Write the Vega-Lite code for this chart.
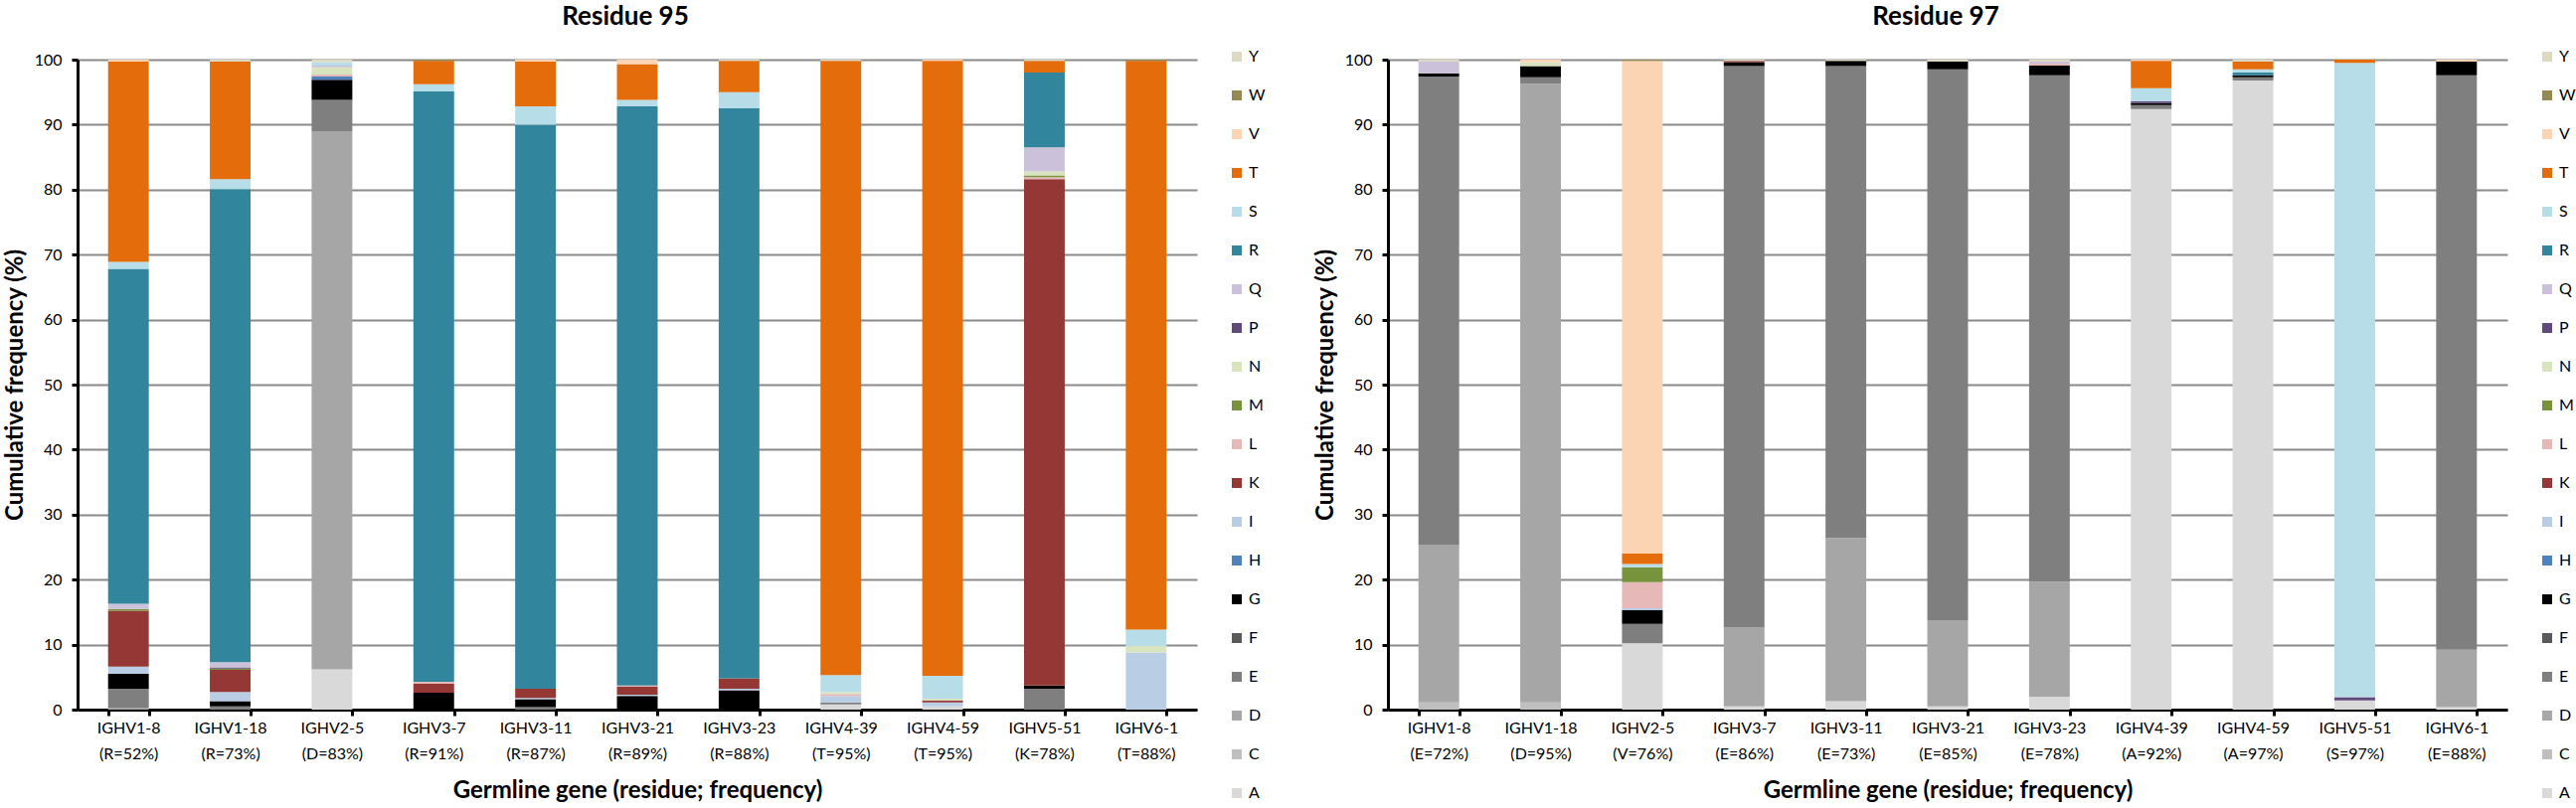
{
  "$schema": "https://vega.github.io/schema/vega-lite/v6.json",
  "padding": {"left": 3, "top": 4, "right": 0, "bottom": 0},
  "background": "white",
  "config": {
    "font": "Lato",
    "view": {"stroke": null},
    "axis": {
      "labelFontSize": 16, "labelColor": "#000000",
      "titleFontSize": 24, "titleFontWeight": "bold", "titleColor": "#000000",
      "domainColor": "#000000", "domainWidth": 3,
      "tickColor": "#000000", "tickWidth": 3, "tickSize": 6
    },
    "title": {"fontSize": 26, "fontWeight": "bold", "color": "#000000", "offset": 19, "dx": -12},
    "legend": {
      "title": null, "symbolType": "square", "symbolSize": 100, "symbolStrokeWidth": 0,
      "labelFontSize": 16, "labelColor": "#000000", "rowPadding": 23, "labelOffset": 4,
      "orient": "none", "legendX": 1158, "legendY": -11
    }
  },
  "datasets": {
    "res95": [
      {"gene": "IGHV1-8|(R=52%)", "aa": "D", "pct": 0.3},
      {"gene": "IGHV1-8|(R=52%)", "aa": "E", "pct": 2.9},
      {"gene": "IGHV1-8|(R=52%)", "aa": "G", "pct": 2.3},
      {"gene": "IGHV1-8|(R=52%)", "aa": "I", "pct": 1.1},
      {"gene": "IGHV1-8|(R=52%)", "aa": "K", "pct": 8.6},
      {"gene": "IGHV1-8|(R=52%)", "aa": "M", "pct": 0.3},
      {"gene": "IGHV1-8|(R=52%)", "aa": "Q", "pct": 0.8},
      {"gene": "IGHV1-8|(R=52%)", "aa": "R", "pct": 51.5},
      {"gene": "IGHV1-8|(R=52%)", "aa": "S", "pct": 1.1},
      {"gene": "IGHV1-8|(R=52%)", "aa": "T", "pct": 30.8},
      {"gene": "IGHV1-8|(R=52%)", "aa": "V", "pct": 0.3},

      {"gene": "IGHV1-18|(R=73%)", "aa": "E", "pct": 0.5},
      {"gene": "IGHV1-18|(R=73%)", "aa": "G", "pct": 0.8},
      {"gene": "IGHV1-18|(R=73%)", "aa": "I", "pct": 1.4},
      {"gene": "IGHV1-18|(R=73%)", "aa": "K", "pct": 3.4},
      {"gene": "IGHV1-18|(R=73%)", "aa": "M", "pct": 0.2},
      {"gene": "IGHV1-18|(R=73%)", "aa": "P", "pct": 0.2},
      {"gene": "IGHV1-18|(R=73%)", "aa": "Q", "pct": 0.8},
      {"gene": "IGHV1-18|(R=73%)", "aa": "R", "pct": 72.8},
      {"gene": "IGHV1-18|(R=73%)", "aa": "S", "pct": 1.5},
      {"gene": "IGHV1-18|(R=73%)", "aa": "T", "pct": 18.1},
      {"gene": "IGHV1-18|(R=73%)", "aa": "Y", "pct": 0.3},

      {"gene": "IGHV2-5|(D=83%)", "aa": "A", "pct": 6.2},
      {"gene": "IGHV2-5|(D=83%)", "aa": "D", "pct": 82.8},
      {"gene": "IGHV2-5|(D=83%)", "aa": "E", "pct": 4.8},
      {"gene": "IGHV2-5|(D=83%)", "aa": "G", "pct": 3.1},
      {"gene": "IGHV2-5|(D=83%)", "aa": "H", "pct": 0.5},
      {"gene": "IGHV2-5|(D=83%)", "aa": "L", "pct": 0.3},
      {"gene": "IGHV2-5|(D=83%)", "aa": "N", "pct": 1.1},
      {"gene": "IGHV2-5|(D=83%)", "aa": "Q", "pct": 0.3},
      {"gene": "IGHV2-5|(D=83%)", "aa": "S", "pct": 0.5},
      {"gene": "IGHV2-5|(D=83%)", "aa": "Y", "pct": 0.4},

      {"gene": "IGHV3-7|(R=91%)", "aa": "G", "pct": 2.6},
      {"gene": "IGHV3-7|(R=91%)", "aa": "K", "pct": 1.4},
      {"gene": "IGHV3-7|(R=91%)", "aa": "L", "pct": 0.3},
      {"gene": "IGHV3-7|(R=91%)", "aa": "R", "pct": 90.8},
      {"gene": "IGHV3-7|(R=91%)", "aa": "S", "pct": 1.1},
      {"gene": "IGHV3-7|(R=91%)", "aa": "T", "pct": 3.6},
      {"gene": "IGHV3-7|(R=91%)", "aa": "W", "pct": 0.2},

      {"gene": "IGHV3-11|(R=87%)", "aa": "E", "pct": 0.4},
      {"gene": "IGHV3-11|(R=87%)", "aa": "G", "pct": 1.2},
      {"gene": "IGHV3-11|(R=87%)", "aa": "I", "pct": 0.2},
      {"gene": "IGHV3-11|(R=87%)", "aa": "K", "pct": 1.4},
      {"gene": "IGHV3-11|(R=87%)", "aa": "R", "pct": 86.8},
      {"gene": "IGHV3-11|(R=87%)", "aa": "S", "pct": 2.8},
      {"gene": "IGHV3-11|(R=87%)", "aa": "T", "pct": 6.9},
      {"gene": "IGHV3-11|(R=87%)", "aa": "V", "pct": 0.3},

      {"gene": "IGHV3-21|(R=89%)", "aa": "G", "pct": 2.1},
      {"gene": "IGHV3-21|(R=89%)", "aa": "I", "pct": 0.2},
      {"gene": "IGHV3-21|(R=89%)", "aa": "K", "pct": 1.2},
      {"gene": "IGHV3-21|(R=89%)", "aa": "L", "pct": 0.2},
      {"gene": "IGHV3-21|(R=89%)", "aa": "R", "pct": 89.1},
      {"gene": "IGHV3-21|(R=89%)", "aa": "S", "pct": 1.0},
      {"gene": "IGHV3-21|(R=89%)", "aa": "T", "pct": 5.5},
      {"gene": "IGHV3-21|(R=89%)", "aa": "V", "pct": 0.7},

      {"gene": "IGHV3-23|(R=88%)", "aa": "G", "pct": 3.0},
      {"gene": "IGHV3-23|(R=88%)", "aa": "I", "pct": 0.2},
      {"gene": "IGHV3-23|(R=88%)", "aa": "K", "pct": 1.6},
      {"gene": "IGHV3-23|(R=88%)", "aa": "R", "pct": 87.7},
      {"gene": "IGHV3-23|(R=88%)", "aa": "S", "pct": 2.5},
      {"gene": "IGHV3-23|(R=88%)", "aa": "T", "pct": 4.8},
      {"gene": "IGHV3-23|(R=88%)", "aa": "Y", "pct": 0.2},

      {"gene": "IGHV4-39|(T=95%)", "aa": "A", "pct": 0.8},
      {"gene": "IGHV4-39|(T=95%)", "aa": "E", "pct": 0.3},
      {"gene": "IGHV4-39|(T=95%)", "aa": "I", "pct": 1.0},
      {"gene": "IGHV4-39|(T=95%)", "aa": "L", "pct": 0.3},
      {"gene": "IGHV4-39|(T=95%)", "aa": "N", "pct": 0.3},
      {"gene": "IGHV4-39|(T=95%)", "aa": "S", "pct": 2.6},
      {"gene": "IGHV4-39|(T=95%)", "aa": "T", "pct": 94.5},
      {"gene": "IGHV4-39|(T=95%)", "aa": "Y", "pct": 0.2},

      {"gene": "IGHV4-59|(T=95%)", "aa": "A", "pct": 0.5},
      {"gene": "IGHV4-59|(T=95%)", "aa": "I", "pct": 0.6},
      {"gene": "IGHV4-59|(T=95%)", "aa": "K", "pct": 0.3},
      {"gene": "IGHV4-59|(T=95%)", "aa": "N", "pct": 0.3},
      {"gene": "IGHV4-59|(T=95%)", "aa": "S", "pct": 3.5},
      {"gene": "IGHV4-59|(T=95%)", "aa": "T", "pct": 94.6},
      {"gene": "IGHV4-59|(T=95%)", "aa": "V", "pct": 0.2},

      {"gene": "IGHV5-51|(K=78%)", "aa": "E", "pct": 3.2},
      {"gene": "IGHV5-51|(K=78%)", "aa": "G", "pct": 0.5},
      {"gene": "IGHV5-51|(K=78%)", "aa": "K", "pct": 77.9},
      {"gene": "IGHV5-51|(K=78%)", "aa": "L", "pct": 0.3},
      {"gene": "IGHV5-51|(K=78%)", "aa": "M", "pct": 0.3},
      {"gene": "IGHV5-51|(K=78%)", "aa": "N", "pct": 0.6},
      {"gene": "IGHV5-51|(K=78%)", "aa": "Q", "pct": 3.7},
      {"gene": "IGHV5-51|(K=78%)", "aa": "R", "pct": 11.5},
      {"gene": "IGHV5-51|(K=78%)", "aa": "T", "pct": 1.8},
      {"gene": "IGHV5-51|(K=78%)", "aa": "Y", "pct": 0.2},

      {"gene": "IGHV6-1|(T=88%)", "aa": "I", "pct": 8.8},
      {"gene": "IGHV6-1|(T=88%)", "aa": "N", "pct": 1.0},
      {"gene": "IGHV6-1|(T=88%)", "aa": "S", "pct": 2.5},
      {"gene": "IGHV6-1|(T=88%)", "aa": "T", "pct": 87.5},
      {"gene": "IGHV6-1|(T=88%)", "aa": "W", "pct": 0.2}
    ],
    "res97": [
      {"gene": "IGHV1-8|(E=72%)", "aa": "C", "pct": 1.1},
      {"gene": "IGHV1-8|(E=72%)", "aa": "D", "pct": 24.3},
      {"gene": "IGHV1-8|(E=72%)", "aa": "E", "pct": 72.0},
      {"gene": "IGHV1-8|(E=72%)", "aa": "G", "pct": 0.5},
      {"gene": "IGHV1-8|(E=72%)", "aa": "Q", "pct": 1.8},
      {"gene": "IGHV1-8|(E=72%)", "aa": "Y", "pct": 0.3},

      {"gene": "IGHV1-18|(D=95%)", "aa": "C", "pct": 1.1},
      {"gene": "IGHV1-18|(D=95%)", "aa": "D", "pct": 95.2},
      {"gene": "IGHV1-18|(D=95%)", "aa": "E", "pct": 1.0},
      {"gene": "IGHV1-18|(D=95%)", "aa": "G", "pct": 1.7},
      {"gene": "IGHV1-18|(D=95%)", "aa": "N", "pct": 0.6},
      {"gene": "IGHV1-18|(D=95%)", "aa": "V", "pct": 0.4},

      {"gene": "IGHV2-5|(V=76%)", "aa": "A", "pct": 10.2},
      {"gene": "IGHV2-5|(V=76%)", "aa": "E", "pct": 3.0},
      {"gene": "IGHV2-5|(V=76%)", "aa": "G", "pct": 2.1},
      {"gene": "IGHV2-5|(V=76%)", "aa": "I", "pct": 0.3},
      {"gene": "IGHV2-5|(V=76%)", "aa": "L", "pct": 4.0},
      {"gene": "IGHV2-5|(V=76%)", "aa": "M", "pct": 2.3},
      {"gene": "IGHV2-5|(V=76%)", "aa": "S", "pct": 0.5},
      {"gene": "IGHV2-5|(V=76%)", "aa": "T", "pct": 1.6},
      {"gene": "IGHV2-5|(V=76%)", "aa": "V", "pct": 75.8},
      {"gene": "IGHV2-5|(V=76%)", "aa": "W", "pct": 0.2},

      {"gene": "IGHV3-7|(E=86%)", "aa": "A", "pct": 0.5},
      {"gene": "IGHV3-7|(E=86%)", "aa": "D", "pct": 12.1},
      {"gene": "IGHV3-7|(E=86%)", "aa": "E", "pct": 86.4},
      {"gene": "IGHV3-7|(E=86%)", "aa": "G", "pct": 0.6},
      {"gene": "IGHV3-7|(E=86%)", "aa": "K", "pct": 0.2},
      {"gene": "IGHV3-7|(E=86%)", "aa": "Y", "pct": 0.2},

      {"gene": "IGHV3-11|(E=73%)", "aa": "A", "pct": 1.3},
      {"gene": "IGHV3-11|(E=73%)", "aa": "D", "pct": 25.1},
      {"gene": "IGHV3-11|(E=73%)", "aa": "E", "pct": 72.6},
      {"gene": "IGHV3-11|(E=73%)", "aa": "G", "pct": 0.8},
      {"gene": "IGHV3-11|(E=73%)", "aa": "Y", "pct": 0.2},

      {"gene": "IGHV3-21|(E=85%)", "aa": "A", "pct": 0.5},
      {"gene": "IGHV3-21|(E=85%)", "aa": "D", "pct": 13.2},
      {"gene": "IGHV3-21|(E=85%)", "aa": "E", "pct": 84.8},
      {"gene": "IGHV3-21|(E=85%)", "aa": "G", "pct": 1.2},
      {"gene": "IGHV3-21|(E=85%)", "aa": "Y", "pct": 0.3},

      {"gene": "IGHV3-23|(E=78%)", "aa": "A", "pct": 2.0},
      {"gene": "IGHV3-23|(E=78%)", "aa": "D", "pct": 17.7},
      {"gene": "IGHV3-23|(E=78%)", "aa": "E", "pct": 77.9},
      {"gene": "IGHV3-23|(E=78%)", "aa": "G", "pct": 1.5},
      {"gene": "IGHV3-23|(E=78%)", "aa": "L", "pct": 0.3},
      {"gene": "IGHV3-23|(E=78%)", "aa": "Q", "pct": 0.3},
      {"gene": "IGHV3-23|(E=78%)", "aa": "Y", "pct": 0.3},

      {"gene": "IGHV4-39|(A=92%)", "aa": "A", "pct": 92.4},
      {"gene": "IGHV4-39|(A=92%)", "aa": "E", "pct": 0.6},
      {"gene": "IGHV4-39|(A=92%)", "aa": "G", "pct": 0.3},
      {"gene": "IGHV4-39|(A=92%)", "aa": "P", "pct": 0.3},
      {"gene": "IGHV4-39|(A=92%)", "aa": "S", "pct": 2.0},
      {"gene": "IGHV4-39|(A=92%)", "aa": "T", "pct": 4.2},
      {"gene": "IGHV4-39|(A=92%)", "aa": "V", "pct": 0.2},

      {"gene": "IGHV4-59|(A=97%)", "aa": "A", "pct": 96.8},
      {"gene": "IGHV4-59|(A=97%)", "aa": "E", "pct": 0.5},
      {"gene": "IGHV4-59|(A=97%)", "aa": "G", "pct": 0.3},
      {"gene": "IGHV4-59|(A=97%)", "aa": "R", "pct": 0.4},
      {"gene": "IGHV4-59|(A=97%)", "aa": "S", "pct": 0.5},
      {"gene": "IGHV4-59|(A=97%)", "aa": "T", "pct": 1.2},
      {"gene": "IGHV4-59|(A=97%)", "aa": "Y", "pct": 0.3},

      {"gene": "IGHV5-51|(S=97%)", "aa": "A", "pct": 1.4},
      {"gene": "IGHV5-51|(S=97%)", "aa": "P", "pct": 0.5},
      {"gene": "IGHV5-51|(S=97%)", "aa": "S", "pct": 97.6},
      {"gene": "IGHV5-51|(S=97%)", "aa": "T", "pct": 0.5},

      {"gene": "IGHV6-1|(E=88%)", "aa": "A", "pct": 0.4},
      {"gene": "IGHV6-1|(E=88%)", "aa": "D", "pct": 8.8},
      {"gene": "IGHV6-1|(E=88%)", "aa": "E", "pct": 88.4},
      {"gene": "IGHV6-1|(E=88%)", "aa": "G", "pct": 2.1},
      {"gene": "IGHV6-1|(E=88%)", "aa": "V", "pct": 0.3}
    ]
  },
  "bounds": "flush",
  "spacing": 192,
  "hconcat": [
    {
      "title": "Residue 95",
      "width": 1126,
      "height": 654,
      "data": {"name": "res95"},
      "mark": {"type": "bar"},
      "encoding": {
        "x": {
          "field": "gene", "type": "nominal", "sort": null,
          "title": "Germline gene (residue; frequency)",
          "scale": {"paddingInner": 0.6, "paddingOuter": 0.3},
          "axis": {"labelExpr": "split(datum.label, '|')", "labelLineHeight": 26, "labelAngle": 0,
                   "tickBand": "extent", "labelPadding": 4, "titlePadding": 17}
        },
        "y": {
          "field": "pct", "type": "quantitative", "stack": "zero",
          "title": "Cumulative frequency (%)",
          "scale": {"domain": [0, 100], "nice": false},
          "axis": {"values": [0, 10, 20, 30, 40, 50, 60, 70, 80, 90, 100], "grid": true,
                   "gridColor": "#8a8a8a", "gridWidth": 2, "labelPadding": 10, "titlePadding": 7}
        },
        "color": {
          "field": "aa", "type": "nominal",
          "scale": {
            "domain": ["Y", "W", "V", "T", "S", "R", "Q", "P", "N", "M", "L", "K", "I", "H", "G", "F", "E", "D", "C", "A"],
            "range": ["#DDD9C3", "#948A54", "#FBD4B4", "#E46C0A", "#B7DEE8", "#31859C", "#CCC1DA", "#604A7B", "#D7E4BD", "#77933C", "#E6B9B8", "#953735", "#B9CDE5", "#4F81BD", "#000000", "#595959", "#7F7F7F", "#A6A6A6", "#BFBFBF", "#D9D9D9"]
          }
        },
        "order": {"field": "aa", "type": "ordinal", "sort": "ascending"}
      }
    },
    {
      "title": "Residue 97",
      "width": 1126,
      "height": 654,
      "data": {"name": "res97"},
      "mark": {"type": "bar"},
      "encoding": {
        "x": {
          "field": "gene", "type": "nominal", "sort": null,
          "title": "Germline gene (residue; frequency)",
          "scale": {"paddingInner": 0.6, "paddingOuter": 0.3},
          "axis": {"labelExpr": "split(datum.label, '|')", "labelLineHeight": 26, "labelAngle": 0,
                   "tickBand": "extent", "labelPadding": 4, "titlePadding": 17}
        },
        "y": {
          "field": "pct", "type": "quantitative", "stack": "zero",
          "title": "Cumulative frequency (%)",
          "scale": {"domain": [0, 100], "nice": false},
          "axis": {"values": [0, 10, 20, 30, 40, 50, 60, 70, 80, 90, 100], "grid": true,
                   "gridColor": "#8a8a8a", "gridWidth": 2, "labelPadding": 10, "titlePadding": 7}
        },
        "color": {
          "field": "aa", "type": "nominal",
          "scale": {
            "domain": ["Y", "W", "V", "T", "S", "R", "Q", "P", "N", "M", "L", "K", "I", "H", "G", "F", "E", "D", "C", "A"],
            "range": ["#DDD9C3", "#948A54", "#FBD4B4", "#E46C0A", "#B7DEE8", "#31859C", "#CCC1DA", "#604A7B", "#D7E4BD", "#77933C", "#E6B9B8", "#953735", "#B9CDE5", "#4F81BD", "#000000", "#595959", "#7F7F7F", "#A6A6A6", "#BFBFBF", "#D9D9D9"]
          }
        },
        "order": {"field": "aa", "type": "ordinal", "sort": "ascending"}
      }
    }
  ],
  "resolve": {"scale": {"x": "independent", "color": "independent"}, "legend": {"color": "independent"}}
}
